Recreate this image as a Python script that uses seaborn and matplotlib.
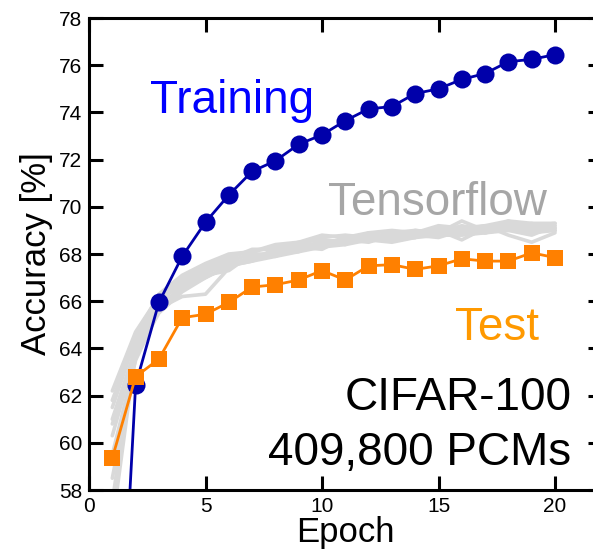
import numpy as np
import pandas as pd
import matplotlib
matplotlib.use("Agg")
import matplotlib.pyplot as plt
import seaborn as sns

# --- data ---
epochs = list(range(1, 21))

training_acc = [44.0, 62.45, 65.95, 67.9, 69.35, 70.5, 71.5, 71.95, 72.65, 73.05,
                73.65, 74.15, 74.25, 74.8, 75.0, 75.4, 75.65, 76.15, 76.25, 76.45]

test_acc = [59.35, 62.8, 63.55, 65.3, 65.45, 65.95, 66.6, 66.7, 66.9, 67.3,
            66.9, 67.5, 67.55, 67.35, 67.5, 67.8, 67.7, 67.7, 68.05, 67.85]

# Tensorflow reference runs (grey band)
tf_run1 = [62.2, 64.7, 66.2, 67.0, 67.5, 67.9, 68.1, 68.3, 68.4, 68.7, 68.8, 68.7, 68.9, 69.0, 68.9, 69.4, 69.0, 69.1, 69.2, 69.3]
tf_run2 = [61.5, 64.4, 66.0, 66.8, 67.3, 67.7, 68.0, 68.0, 68.3, 68.5, 68.6, 68.8, 68.7, 68.9, 69.1, 68.9, 69.0, 69.4, 69.0, 69.1]
tf_run3 = [61.0, 64.0, 65.8, 66.6, 67.2, 67.6, 67.8, 68.2, 68.2, 68.4, 68.7, 68.6, 68.8, 68.7, 69.0, 69.1, 68.9, 69.0, 69.2, 69.0]
tf_run4 = [60.3, 63.8, 65.7, 66.2, 66.3, 67.4, 67.9, 68.0, 68.1, 68.6, 68.5, 68.7, 68.6, 68.9, 68.8, 69.0, 69.2, 68.8, 68.5, 68.9]
tf_run5 = [59.5, 63.5, 65.6, 66.5, 67.0, 67.5, 67.7, 68.1, 68.4, 68.3, 68.6, 68.5, 68.8, 68.8, 69.0, 68.6, 69.1, 69.2, 69.0, 69.1]
tf_run6 = [58.5, 63.6, 65.9, 66.9, 67.4, 67.8, 68.2, 68.2, 68.5, 68.6, 68.4, 68.9, 68.7, 69.0, 68.9, 69.2, 69.0, 69.3, 69.1, 69.2]
tf_run7 = [57.5, 64.2, 66.1, 66.7, 67.1, 67.3, 68.0, 67.9, 68.3, 68.2, 68.7, 68.6, 68.9, 68.8, 68.7, 69.0, 68.9, 69.1, 69.3, 69.0]
tf_run8 = [56.5, 63.9, 66.0, 66.8, 67.3, 67.6, 67.8, 68.1, 68.2, 68.5, 68.6, 68.8, 68.6, 68.7, 69.1, 68.9, 69.1, 69.0, 68.8, 69.2]
tf_run9 = [61.8, 64.5, 66.3, 67.1, 67.6, 68.0, 68.1, 68.4, 68.5, 68.8, 68.7, 68.9, 69.0, 68.9, 69.2, 69.1, 69.2, 69.4, 69.3, 69.3]
tf_run10 = [60.8, 63.7, 65.5, 66.4, 67.0, 67.5, 67.7, 67.9, 68.1, 68.3, 68.4, 68.6, 68.5, 68.7, 68.8, 68.8, 68.9, 69.1, 68.9, 69.0]
tf_runs = [tf_run1, tf_run2, tf_run3, tf_run4, tf_run5,
           tf_run6, tf_run7, tf_run8, tf_run9, tf_run10]

x_ticks = [0, 5, 10, 15, 20]
y_ticks = list(range(58, 79, 2))

# long-form table for the grey runs
tf_df = pd.DataFrame({
    "epoch": epochs * len(tf_runs),
    "acc": [v for run in tf_runs for v in run],
    "run": [i for i, run in enumerate(tf_runs) for _ in run],
})

sns.set_style("ticks")
plt.rcParams["font.family"] = ["Liberation Sans", "DejaVu Sans"]
plt.rcParams["text.color"] = "black"
plt.rcParams["axes.labelcolor"] = "black"

fig = plt.figure(figsize=(5.93, 5.52), dpi=100)
ax = fig.add_axes([0.1501, 0.1123, 0.8644, 0.855])

sns.lineplot(data=tf_df, x="epoch", y="acc", units="run", estimator=None,
             color="#d9d9d9", linewidth=2.6, ax=ax, legend=False)
sns.lineplot(x=epochs, y=training_acc, color="#0000aa", linewidth=2.0,
             marker="o", markersize=13, markeredgewidth=0, ax=ax)
sns.lineplot(x=epochs, y=test_acc, color="#ff8000", linewidth=2.0,
             marker="s", markersize=11.5, markeredgewidth=0, ax=ax)

ax.set_xlim(0, 22)
ax.set_ylim(58, 78)
ax.set_xticks(x_ticks)
ax.set_yticks(y_ticks)

for s in ax.spines.values():
    s.set_linewidth(2.2)
    s.set_color("black")
ax.tick_params(direction="in", length=10, width=2.2, labelsize=15,
               top=True, right=True, pad=5, colors="black")

ax.set_xlabel("Epoch", fontsize=25, labelpad=0, color="black")
ax.set_ylabel("Accuracy [%]", fontsize=25, labelpad=4, color="black")

big = 33
ax.text(2.62, 73.97, "Training", color="#0000ff", fontsize=big, va="baseline")
ax.text(10.26, 69.65, "Tensorflow", color="#a6a6a6", fontsize=big, va="baseline")
ax.text(15.7, 64.36, "Test", color="#ff9900", fontsize=big, va="baseline")
ax.text(20.7, 61.39, "CIFAR-100", color="black", fontsize=big, va="baseline", ha="right")
ax.text(20.7, 59.06, "409,800 PCMs", color="black", fontsize=big, va="baseline", ha="right")

fig.savefig("out.png", dpi=100)
